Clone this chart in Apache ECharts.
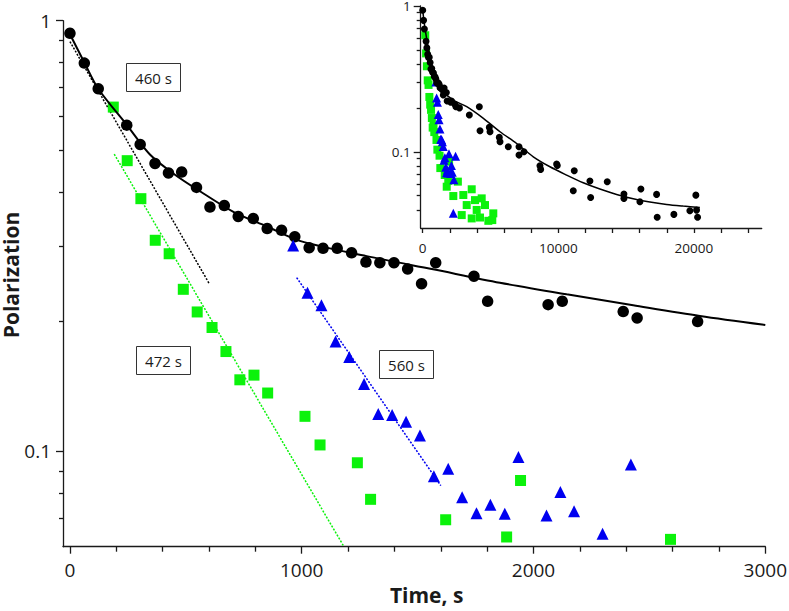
<!DOCTYPE html>
<html><head><meta charset="utf-8">
<script src="https://cdn.jsdelivr.net/npm/echarts@6/dist/echarts.min.js"></script>
<style>html,body{margin:0;padding:0;background:#fff}#c{width:789px;height:611px}</style>
</head><body><div id="c"></div>
<script>
// ---- data (time in s, polarization) ----
const circleTime = [0,62,122,245,303,367,425,482,546,604,666,726,791,851,913,970,1032,1092,1153,1215,1277,1337,1398,1457,1517,1578,1743,1802,2063,2124,2387,2447,2708,
  3437,4174,4225,4911,4962,5648,5700,6310,7100,7100,7467,8646,8697,9876,9925,11103,11177,12331,12383,13607,14838,14838,16017,16091,17248,17292,18523,19702,20144,20196,20270];
const circlePol = [0.935,0.797,0.695,0.572,0.516,0.466,0.443,0.445,0.410,0.369,0.372,0.351,0.347,0.329,0.326,0.315,0.297,0.296,0.296,0.289,0.275,0.274,0.274,0.265,0.245,0.274,0.255,0.223,0.219,0.223,0.211,0.204,0.200,
  0.1786,0.2037,0.1393,0.147,0.1372,0.1255,0.117,0.1082,0.1082,0.0949,0.100,0.0802,0.0757,0.0823,0.0805,0.054,0.0741,0.063,0.0486,0.0622,0.0513,0.0479,0.0454,0.0555,0.051,0.0356,0.0372,0.0394,0.0504,0.0398,0.0356];

const squareTime = [187,247,306,368,428,489,549,613,673,733,794,853,1014,1079,1240,1297,1621,1884,1944,2591,
  1769,2256,2875,2993,3243,3612,3612,3855,3980,4223,4349,4592,4839,5130,5204];
const squarePol = [0.630,0.473,0.386,0.309,0.2875,0.2377,0.2106,0.1938,0.1704,0.1465,0.1502,0.1365,0.1205,0.1034,0.0940,0.0773,0.0693,0.0632,0.0855,0.0624,
  0.0576,0.0497,0.0368,0.0505,0.0431,0.0553,0.0349,0.0466,0.0399,0.0354,0.0479,0.0431,0.0336,0.034,0.0378];

const triangleTime = [963,1025,1085,1146,1205,1269,1330,1390,1450,1510,1570,1632,1692,1754,1814,1876,1935,2056,2116,2175,2298,2420,2256];
const trianglePol = [0.3006,0.2335,0.2183,0.1799,0.1656,0.1432,0.1220,0.1214,0.1171,0.1087,0.0875,0.0910,0.0782,0.0718,0.0751,0.0716,0.0969,0.0709,0.0804,0.0725,0.0643,0.0931,0.0378];

// fitted curve (main panel)
const curveTime = [0,62,122,245,345,450,561,705,848,992,1280,1567,1855,2143,2430,2718,3000];
const curvePol = [0.93,0.80,0.695,0.573,0.489,0.440,0.4016,0.3598,0.333,0.308,0.2839,0.2645,0.2462,0.2314,0.2183,0.2062,0.1965];

// fitted curve (inset)
const insetCurveTime = [0,170,538,1032,1523,2260,3243,4472,5700,6928,8155,9383,10614,11838,13067,14299,15523,16754,17985,19208,20439];
const insetCurvePol = [0.93,0.70,0.449,0.31,0.258,0.226,0.2037,0.1695,0.1372,0.114,0.0924,0.0789,0.0692,0.0613,0.0555,0.051,0.0476,0.0452,0.0435,0.0424,0.0415];

// single-exponential fits (dotted)
const fit460Time = [0,601];   const fit460Pol = [0.894,0.245];
const fit472Time = [191,1179]; const fit472Pol = [0.49,0.0604];
const fit560Time = [978,1600]; const fit560Pol = [0.253,0.0832];

const fitLabels = ['460 s','472 s','560 s'];
const yTitle = 'Polarization';
const xTitle = 'Time, s';

// ticks
const mainXMajor = [0,1000,2000,3000];
const mainXMinor = [200,400,600,800,1200,1400,1600,1800,2200,2400,2600,2800];
const mainYMajor = [0.1,1];
const mainYMinor = [0.07,0.08,0.09,0.2,0.3,0.4,0.5,0.6,0.7,0.8,0.9];
const insetXTicks = [0,2000,4000,6000,8000,10000,12000,14000,16000,18000,20000,22000,24000];
const insetXLabels = [0,10000,20000];
const insetYMajor = [0.1,1];
const insetYMinor = [0.04,0.05,0.06,0.07,0.08,0.09,0.2,0.3,0.4,0.5,0.6,0.7,0.8,0.9];

// ---- chart ----
const zip = (a,b) => a.map((v,i) => [v,b[i]]);
const FONT = '"Open Sans", "Noto Sans", sans-serif';
const AX = '#1a1a1a';
const GREEN = '#0bf20b';
const BLUE = '#0000f0';
const plain = v => String(v);

function xAx(grid, min, max, tickVals, tickLen, labelVals, fs, margin, extra) {
  return Object.assign({
    gridIndex: grid, type: 'value', min: min, max: max, position: 'bottom',
    axisLine: {show: labelVals !== null, onZero: false, lineStyle: {color: AX, width: 1.3}},
    axisTick: {show: true, length: tickLen, customValues: tickVals, lineStyle: {color: AX, width: 1.3}},
    axisLabel: labelVals ? {show: true, customValues: labelVals, formatter: plain, fontSize: fs, color: AX, margin: margin, fontFamily: FONT} : {show: false},
    splitLine: {show: false}
  }, extra || {});
}
function yAx(grid, min, max, tickVals, tickLen, labelVals, fs, margin, extra) {
  return Object.assign({
    gridIndex: grid, type: 'log', logBase: 10, min: min, max: max, position: 'left',
    axisLine: {show: labelVals !== null, onZero: false, lineStyle: {color: AX, width: 1.3}},
    axisTick: {show: true, length: tickLen, customValues: tickVals, lineStyle: {color: AX, width: 1.3}},
    axisLabel: labelVals ? {show: true, customValues: labelVals, formatter: plain, fontSize: fs, lineHeight: fs * 0.85, color: AX, margin: margin, fontFamily: FONT} : {show: false},
    splitLine: {show: false}
  }, extra || {});
}

const dotted = (xi, yi, t, p, color) => ({
  type: 'line', xAxisIndex: xi, yAxisIndex: yi, data: zip(t, p), symbol: 'none', z: 3,
  lineStyle: {color: color, width: 1.5, type: [2, 1.5]}, silent: true
});
const scat = (xi, yi, t, p, symbol, size, color, z) => ({
  type: 'scatter', xAxisIndex: xi, yAxisIndex: yi, data: zip(t, p), symbol: symbol, symbolSize: size,
  itemStyle: {color: color, opacity: 1}, z: z, silent: true
});

function box(x, y, text) {
  return [
    {type: 'rect', shape: {x: x + 0.5, y: y + 0.5, width: 54, height: 28}, style: {fill: '#fff', stroke: '#333', lineWidth: 1}, z: 50},
    {type: 'text', x: x + 27.5, y: y + 14.5, style: {text: text, font: '15px ' + FONT, fill: '#1a1a1a', textAlign: 'center', textVerticalAlign: 'middle'}, z: 51}
  ];
}

const option = {
  animation: false,
  backgroundColor: '#fff',
  grid: [
    {left: 63, top: 20.7, width: 702.3, height: 526, containLabel: false, outerBoundsMode: 'none'},
    {left: 420.7, top: 6, width: 341, height: 222, containLabel: false, outerBoundsMode: 'none'}
  ],
  xAxis: [
    xAx(0, -30, 3000, mainXMajor, 7, mainXMajor, 19, 14, {
      name: xTitle, nameLocation: 'middle', nameGap: 30,
      nameTextStyle: {fontSize: 21, fontWeight: 'bold', color: AX, fontFamily: FONT, padding: [0, 0, 0, 25]}
    }),
    xAx(0, -30, 3000, mainXMinor, 5, null),
    xAx(1, -150, 25000, insetXTicks, 5, insetXLabels, 13.5, 13)
  ],
  yAxis: [
    yAx(0, 0.06, 1, mainYMajor, 7, mainYMajor, 19, 12),
    yAx(0, 0.06, 1, mainYMinor, 4, null),
    yAx(1, 0.03, 1, insetYMajor, 7, insetYMajor, 13.5, 10),
    yAx(1, 0.03, 1, insetYMinor, 4, null)
  ],
  series: [
    {type: 'line', xAxisIndex: 0, yAxisIndex: 0, data: zip(curveTime, curvePol), smooth: 0.3, symbol: 'none',
     lineStyle: {color: '#000', width: 2}, z: 6, silent: true},
    dotted(0, 0, fit460Time, fit460Pol, '#000'),
    dotted(0, 0, fit472Time, fit472Pol, GREEN),
    dotted(0, 0, fit560Time, fit560Pol, BLUE),
    scat(0, 0, circleTime, circlePol, 'circle', 11.5, '#000', 4),
    scat(0, 0, squareTime, squarePol, 'rect', 11, GREEN, 4),
    scat(0, 0, triangleTime, trianglePol, 'triangle', 12, BLUE, 5),
    scat(2, 2, squareTime, squarePol, 'rect', 8, GREEN, 4),
    scat(2, 2, triangleTime, trianglePol, 'triangle', 9, BLUE, 5),
    scat(2, 2, circleTime, circlePol, 'circle', 7, '#000', 6),
    {type: 'line', xAxisIndex: 2, yAxisIndex: 2, data: zip(insetCurveTime, insetCurvePol), smooth: 0.3, symbol: 'none',
     lineStyle: {color: '#000', width: 1.5}, z: 7, silent: true}
  ],
  graphic: [].concat(
    box(126, 63, fitLabels[0]), box(136, 346, fitLabels[1]), box(379, 350, fitLabels[2]),
    [{type: 'text', x: 11, y: 275, rotation: Math.PI / 2,
      style: {text: yTitle, font: 'bold 21px ' + FONT, fill: AX, textAlign: 'center', textVerticalAlign: 'middle'}, z: 60}]
  )
};

const chart = echarts.init(document.getElementById('c'), null, {renderer: 'svg', width: 789, height: 611});
chart.setOption(option);
</script>
</body></html>
